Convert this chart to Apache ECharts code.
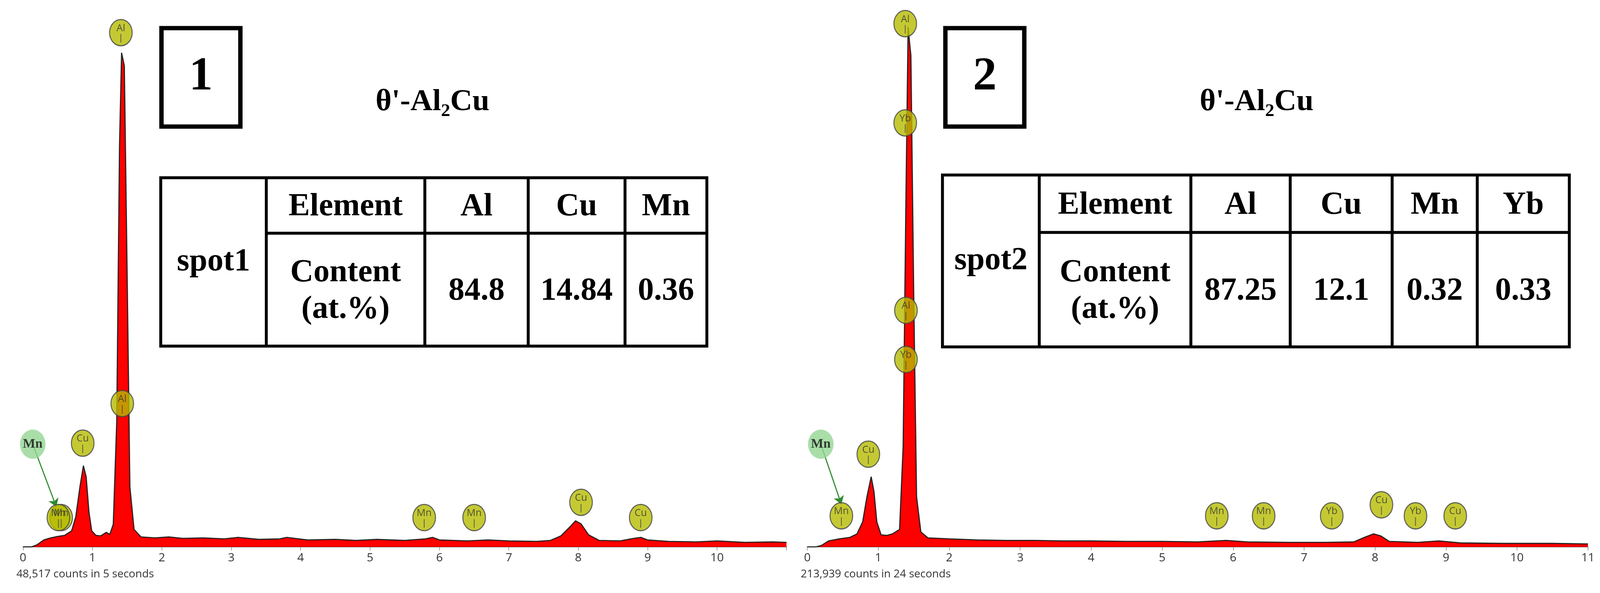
<!DOCTYPE html><html><head><meta charset="utf-8"><script src="https://cdn.jsdelivr.net/npm/echarts@6/dist/echarts.min.js"></script>
<style>html,body{margin:0;background:#fff;overflow:hidden}#c{width:100vw;height:100vh}</style></head><body><div id="c"></div><script>
const spectrum1=[[0,0],[0.12,0],[0.2,0.4],[0.3,1.4],[0.4,1.8],[0.5,2.1],[0.6,2.3],[0.7,3.2],[0.76,6],[0.82,12],[0.87,16.2],[0.91,14],[0.95,7],[0.99,3.2],[1.05,2.3],[1.12,2.2],[1.2,2.9],[1.25,2.5],[1.3,4.5],[1.35,25],[1.39,80],[1.42,98.6],[1.46,96],[1.5,55],[1.54,12],[1.6,3.5],[1.7,2],[1.9,1.8],[2.1,2],[2.3,1.7],[2.6,1.8],[2.9,1.6],[3.1,1.9],[3.4,1.5],[3.7,1.6],[3.8,1.9],[4.1,1.4],[4.5,1.5],[4.8,1.3],[5.1,1.5],[5.5,1.3],[5.8,1.6],[5.9,1.9],[6.0,1.4],[6.4,1.2],[6.7,1.4],[7.0,1.2],[7.4,1.1],[7.6,1.3],[7.75,2.2],[7.88,4],[7.96,5.2],[8.04,4.6],[8.15,2.4],[8.3,1.3],[8.6,1.2],[8.8,1.7],[8.9,1.9],[9.0,1.4],[9.3,1.1],[9.7,1.0],[10.0,1.2],[10.4,0.9],[10.8,1.0],[11,0.9]];
const spectrum2=[[0,0],[0.12,0],[0.2,0.3],[0.3,1.2],[0.45,1.6],[0.6,1.9],[0.7,2.6],[0.78,5],[0.84,10],[0.9,14],[0.94,11],[0.98,5],[1.04,2.4],[1.12,2.3],[1.2,2.6],[1.3,3.5],[1.35,20],[1.39,70],[1.42,103.7],[1.46,98],[1.5,50],[1.54,10],[1.6,3],[1.7,1.8],[2,1.6],[2.4,1.4],[2.8,1.3],[3.2,1.3],[3.6,1.2],[4,1.2],[4.5,1.1],[5,1.1],[5.5,1.0],[5.9,1.3],[6.2,1.0],[6.8,0.9],[7.3,0.9],[7.7,1.0],[7.85,1.9],[7.98,2.6],[8.08,2.2],[8.2,1.1],[8.6,0.9],[8.9,1.2],[9.2,0.8],[9.8,0.7],[10.5,0.7],[11,0.6]];
const peaks1=[["Al",1.41,102.6],["Al",1.43,28.6],["Cu",0.86,20.7],["Mn",0.55,5.85],["Mn",0.51,5.85],["Mn",5.78,5.85],["Mn",6.5,5.85],["Cu",8.04,8.9],["Cu",8.9,5.85]];
const peaks2=[["Al",1.38,104.4],["Yb",1.38,84.6],["Al",1.39,47.2],["Yb",1.39,37.4],["Cu",0.86,18.5],["Mn",0.48,6.2],["Mn",5.77,6.2],["Mn",6.43,6.2],["Yb",7.39,6.2],["Cu",8.09,8.4],["Yb",8.57,6.2],["Cu",9.13,6.2]];
const callout1=[[0.14,20.5],[0.48,8]];
const callout2=[[0.19,20.5],[0.48,8.5]];
const counts=["48,517 counts in 5 seconds","213,939 counts in 24 seconds"];
const phase="θ'-Al₂Cu";
const tableHead1=["Element","Al","Cu","Mn"],tableVal1=["84.8","14.84","0.36"];
const tableHead2=["Element","Al","Cu","Mn","Yb"],tableVal2=["87.25","12.1","0.32","0.33"];
const xTicks=[0,1,2,3,4,5,6,7,8,9,10,11];

const el=document.getElementById('c');
const W=el.clientWidth||window.innerWidth,H=el.clientHeight||window.innerHeight;
const sx=W/4380,sy=H/1518,sf=Math.min(sx,sy);
const X=v=>v*sx,Y=v=>v*sy,F=v=>v*sf;
const ch=echarts.init(el);
const serif='Liberation Serif';
function axisX(i,showLast){return{gridIndex:i,type:'value',min:0,max:11,interval:1,
 axisLine:{lineStyle:{color:'#555',width:F(2)}},axisTick:{show:true,length:F(10),lineStyle:{color:'#555'}},splitLine:{show:false},
 axisLabel:{fontSize:F(32),color:'#333',fontFamily:'Open Sans',margin:F(14),formatter:v=>(!showLast&&v===11)?'':String(xTicks[v])}};}
function axisY(i){return{gridIndex:i,type:'value',min:0,max:106,show:false};}
function spec(i,d){return{type:'line',xAxisIndex:i,yAxisIndex:i,data:d,symbol:'none',lineStyle:{color:'#222',width:F(3)},areaStyle:{color:'#ff0000',opacity:1},z:2};}
function marks(i,p){return{type:'scatter',xAxisIndex:i,yAxisIndex:i,data:p.map(a=>({value:[a[1],a[2]],name:a[0]})),symbol:'circle',symbolSize:[F(62),F(72)],
 itemStyle:{color:'#b5bb00',borderColor:'#444',borderWidth:F(3)},z:5,
 label:{show:true,position:'inside',formatter:q=>'{t|'+q.name+'}\n{l||}',rich:{t:{fontSize:F(27),color:'#333',fontFamily:'Open Sans',lineHeight:F(30)},l:{fontSize:F(26),color:'#444',lineHeight:F(24)}}}};}
function green(i,c){return{type:'scatter',xAxisIndex:i,yAxisIndex:i,data:[c[0]],symbolSize:[F(70),F(80)],itemStyle:{color:'#93d693'},z:6,
 label:{show:true,position:'inside',formatter:'Mn',fontFamily:serif,fontWeight:'bold',fontSize:F(36),color:'#111'},
 markLine:{silent:true,symbol:['none','arrow'],symbolSize:F(22),label:{show:false},lineStyle:{color:'#2e8b2e',width:F(3),type:'solid'},data:[[{coord:c[0]},{coord:c[1]}]]}};}
function table(x0,y0,cols,y1,y2,head,vals,spot){
 const g=[];const lw=F(8);
 g.push({type:'rect',shape:{x:X(x0),y:Y(y0),width:X(cols[cols.length-1]-x0),height:Y(y2-y0)},style:{fill:'none',stroke:'#000',lineWidth:lw}});
 for(let k=1;k<cols.length-1;k++)g.push({type:'line',shape:{x1:X(cols[k]),y1:Y(y0),x2:X(cols[k]),y2:Y(y2)},style:{stroke:'#000',lineWidth:lw}});
 g.push({type:'line',shape:{x1:X(cols[1]),y1:Y(y1),x2:X(cols[cols.length-1]),y2:Y(y1)},style:{stroke:'#000',lineWidth:lw}});
 const ts=(x,y,t)=>({type:'text',x:X(x),y:Y(y),style:{text:t,fontFamily:serif,fontWeight:'bold',fontSize:F(88),fill:'#000',align:'center',verticalAlign:'middle',lineHeight:F(100)}});
 g.push(ts((x0+cols[1])/2,(y0+y2)/2,spot));
 head.forEach((h,k)=>g.push(ts((cols[k+1]+cols[k+2])/2,(y0+y1)/2+4,h)));
 g.push(ts((cols[1]+cols[2])/2,(y1+y2)/2+4,'Content\n(at.%)'));
 vals.forEach((v,k)=>g.push(ts((cols[k+2]+cols[k+3])/2,(y1+y2)/2+4,v)));
 return g;}
function box(x,y,w,h,t){return[{type:'rect',shape:{x:X(x),y:Y(y),width:X(w),height:Y(h)},style:{fill:'#fff',stroke:'#000',lineWidth:F(12)}},
 {type:'text',x:X(x+w/2),y:Y(y+h/2),style:{text:t,fontFamily:serif,fontWeight:'bold',fontSize:F(130),fill:'#000',align:'center',verticalAlign:'middle'}}];}
const txt=(x,y,t,o)=>({type:'text',x:X(x),y:Y(y),style:Object.assign({text:t,verticalAlign:'middle'},o)});
const gr=[].concat(
 box(442,72,216,252,'1'),box(2588,72,216,252,'2'),
 [txt(1184,262,phase,{fontFamily:serif,fontWeight:'bold',fontSize:F(84),fill:'#000',align:'center'}),
  txt(3440,262,phase,{fontFamily:serif,fontWeight:'bold',fontSize:F(84),fill:'#000',align:'center'}),
  txt(45,1470,counts[0],{fontFamily:'Open Sans',fontSize:F(30),fill:'#333'}),
  txt(2192,1470,counts[1],{fontFamily:'Open Sans',fontSize:F(30),fill:'#333'})],
 table(440,455,[440,729,1163,1446,1711,1935],597,886,tableHead1,tableVal1,'spot1'),
 table(2580,448,[2580,2845,3260,3532,3811,4044,4296],595,888,tableHead2,tableVal2,'spot2'));
ch.setOption({animation:false,
 grid:[{left:X(63),right:X(2227),top:Y(40),bottom:Y(118)},{left:X(2210),right:X(33),top:Y(40),bottom:Y(118)}],
 xAxis:[axisX(0,false),axisX(1,true)],yAxis:[axisY(0),axisY(1)],
 series:[spec(0,spectrum1),spec(1,spectrum2),marks(0,peaks1),marks(1,peaks2),green(0,callout1),green(1,callout2)],
 graphic:gr});
</script></body></html>
